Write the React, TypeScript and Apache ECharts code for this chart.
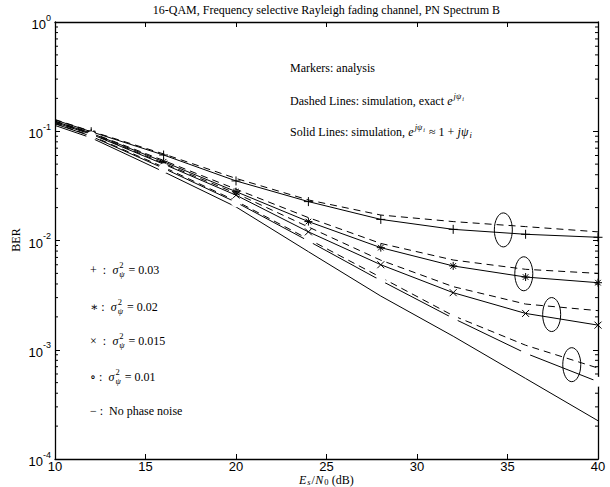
import React, { useEffect, useRef } from 'react';
import * as echarts from 'echarts';

// ---- data ----
const snr = [10, 12, 16, 20, 24, 28, 32, 36, 40];
const markerSnr = [12, 16, 20, 24, 28, 32, 36, 40];

// solid lines: simulation, e^{j psi} ~ 1 + j psi
const solidP03 = [0.127, 0.099, 0.0606, 0.0351, 0.0227, 0.0156, 0.01265, 0.0114, 0.0107];
const solidP02 = [0.123, 0.096, 0.0526, 0.028, 0.0149, 0.0086, 0.00585, 0.00463, 0.00411];
const solidP015 = [0.12, 0.094, 0.05, 0.026, 0.012, 0.006, 0.00333, 0.00215, 0.00168];
const solidP01 = [0.117, 0.09, 0.0458, 0.0224, 0.0099, 0.0043, 0.00194, 0.00093, 0.00051];
const solidNoPN = [0.113, 0.087, 0.0426, 0.0203, 0.0079, 0.0031, 0.00133, 0.000546, 0.000224];

// dashed lines: simulation, exact e^{j psi}
const dashP03 = [0.128, 0.1, 0.062, 0.037, 0.0235, 0.0171, 0.0149, 0.0134, 0.012];
const dashP02 = [0.124, 0.097, 0.054, 0.0295, 0.0162, 0.0094, 0.00663, 0.00545, 0.005];
const dashP015 = [0.121, 0.095, 0.051, 0.027, 0.0133, 0.0066, 0.00378, 0.00262, 0.00228];
const dashP01 = [0.118, 0.091, 0.047, 0.023, 0.0103, 0.0046, 0.00205, 0.0011, 0.00068];

// markers: analysis
const anaP03 = [0.099, 0.0606, 0.0351, 0.0227, 0.0156, 0.01265, 0.0114, 0.0107];
const anaP02 = [0.096, 0.0526, 0.028, 0.0149, 0.0086, 0.00585, 0.00463, 0.00411];
const anaP015 = [0.094, 0.05, 0.026, 0.012, 0.006, 0.00333, 0.00215, 0.00168];
const anaP01 = [0.09, 0.0458, 0.0224, 0.0099, 0.0043, 0.00194, 0.00093, 0.00051];

// annotation ellipses centres (dB, BER)
const ellipseCentres: [number, number][] = [
  [34.77, 0.0125],
  [35.9, 0.00496],
  [37.44, 0.0021],
  [38.55, 0.00073],
];

const xTicks = [10, 40, 5];
const yRange = [1e-4, 1];

const SERIF = '"Liberation Serif", "DejaVu Serif", serif';
const SANS = '"Liberation Sans", Arial, sans-serif';

const plusPath = 'path://M5,0L5,10M0,5L10,5';
const crossPath = 'path://M0,0L10,10M10,0L0,10';
const starPath = 'path://M5,0L5,10M0,5L10,5M1.5,1.5L8.5,8.5M8.5,1.5L1.5,8.5';

function pairs(xs: number[], ys: number[]) {
  return xs.map((x, i) => [x, ys[i]]);
}

type Piece = { t: string; s?: number; it?: boolean; dy?: number; noAdv?: boolean };

let mctx: CanvasRenderingContext2D | null = null;
function fontOf(p: Piece) {
  return `${p.it ? 'italic ' : ''}${p.s || 12}px ${SERIF}`;
}
function measure(p: Piece) {
  if (!mctx) mctx = document.createElement('canvas').getContext('2d');
  const extra = p.it ? 1 : 0.3;
  if (!mctx) return p.t.length * 6 + extra;
  mctx.font = fontOf(p);
  return mctx.measureText(p.t).width + extra;
}
function layout(x: number, y: number, items: Piece[], align: 'left' | 'center' = 'left') {
  let total = 0;
  items.forEach((p) => { if (!p.noAdv) total += measure(p); });
  let cx = align === 'center' ? x - total / 2 : x;
  const els: any[] = [];
  items.forEach((p) => {
    els.push({
      type: 'text', x: cx, y: y + (p.dy || 0), z: 20, silent: true,
      style: { text: p.t, font: fontOf(p), fill: '#000', textAlign: 'left', textVerticalAlign: 'middle' },
    });
    if (!p.noAdv) cx += measure(p);
  });
  return els;
}

const sigma = (prefix: string, value: string): Piece[] => [
  { t: prefix },
  { t: 'σ', it: true },
  { t: '2', s: 8.5, dy: -5, noAdv: true },
  { t: 'ψ', s: 8.5, it: true, dy: 4 },
  { t: ' = ' + value },
];

export default function App() {
  const ref = useRef<HTMLDivElement>(null);
  useEffect(() => {
    if (!ref.current) return;
    const chart = echarts.init(ref.current, null, { renderer: 'svg' });
    const line = (data: number[], dashed: boolean) => ({
      type: 'line',
      data: pairs(snr, data),
      showSymbol: false,
      symbol: 'none',
      lineStyle: { color: '#000', width: 1, type: dashed ? [7, 5] : 'solid' },
      z: 2,
    });
    const scat = (data: number[], symbol: string, size: number) => ({
      type: 'scatter',
      data: pairs(markerSnr, data),
      symbol,
      symbolSize: size,
      clip: false,
      itemStyle: { color: symbol === 'emptyCircle' ? '#fff' : 'transparent', borderColor: '#000', borderWidth: 1, opacity: 1 },
      z: 3,
    });
    const axisCommon = {
      axisLine: { show: true, onZero: false, lineStyle: { color: '#000', width: 1.3 } },
      axisTick: { show: true, inside: true, length: 5, lineStyle: { color: '#000', width: 1 } },
      splitLine: { show: false },
    };
    const yLabelRich = {
      b: { fontFamily: SANS, fontSize: 13, color: '#000', verticalAlign: 'bottom', lineHeight: 18 },
      s: { fontFamily: SANS, fontSize: 9, color: '#000', verticalAlign: 'top', lineHeight: 18 },
    };
    chart.setOption({
      animation: false,
      backgroundColor: '#fff',
      grid: { left: 55, right: 12, top: 22, bottom: 28, containLabel: false },
      xAxis: [
        {
          type: 'value', min: xTicks[0], max: xTicks[1], interval: xTicks[2], position: 'bottom',
          ...axisCommon,
          axisLabel: { show: true, fontFamily: SANS, fontSize: 13, lineHeight: 13, color: '#000', margin: 1 },
        },
        {
          type: 'value', min: xTicks[0], max: xTicks[1], interval: xTicks[2], position: 'top',
          ...axisCommon,
          axisLabel: { show: false },
        },
      ],
      yAxis: [
        {
          type: 'log', logBase: 10, min: yRange[0], max: yRange[1], splitNumber: 4, position: 'left',
          ...axisCommon,
          axisLabel: {
            show: true, margin: 4,
            formatter: (v: number) => `{b|10}{s|${Math.round(Math.log10(v))}}`,
            rich: yLabelRich,
          },
        },
        {
          type: 'log', logBase: 10, min: yRange[0], max: yRange[1], splitNumber: 4, position: 'right',
          ...axisCommon,
          axisLabel: { show: false },
        },
      ],
      series: [
        line(solidP03, false), line(dashP03, true), scat(anaP03, plusPath, 9),
        line(solidP02, false), line(dashP02, true), scat(anaP02, starPath, 8),
        line(solidP015, false), line(dashP015, true), scat(anaP015, crossPath, 7),
        line(solidP01, false), line(dashP01, true), scat(anaP01, 'emptyCircle', 8),
        line(solidNoPN, false),
      ],
    });

    // minor log ticks + ellipses + texts
    const xl = chart.convertToPixel({ xAxisIndex: 0 }, xTicks[0]) as number;
    const xr = chart.convertToPixel({ xAxisIndex: 0 }, xTicks[1]) as number;
    const elements: any[] = [];
    for (let k = -4; k < 0; k++) {
      for (let m = 2; m <= 9; m++) {
        const py = chart.convertToPixel({ yAxisIndex: 0 }, m * Math.pow(10, k)) as number;
        elements.push({ type: 'line', shape: { x1: xl, y1: py, x2: xl + 3, y2: py }, style: { stroke: '#000', lineWidth: 1 }, silent: true });
        elements.push({ type: 'line', shape: { x1: xr - 3, y1: py, x2: xr, y2: py }, style: { stroke: '#000', lineWidth: 1 }, silent: true });
      }
    }
    ellipseCentres.forEach(([dx, dy]) => {
      const [cx, cy] = chart.convertToPixel({ gridIndex: 0 }, [dx, dy]) as number[];
      elements.push({ type: 'ellipse', shape: { cx, cy, rx: 9, ry: 17 }, style: { fill: 'none', stroke: '#000', lineWidth: 1 }, z: 10 });
    });
    const cxPlot = (xl + xr) / 2;
    elements.push(...layout(cxPlot, 10, [{ t: '16-QAM, Frequency selective Rayleigh fading channel, PN Spectrum B' }], 'center'));
    elements.push(...layout(290, 68, [{ t: 'Markers: analysis' }]));
    elements.push(...layout(290, 101, [
      { t: 'Dashed Lines: simulation, exact ' }, { t: 'e', it: true },
      { t: 'jψ', s: 8.5, it: true, dy: -5 }, { t: 'i', s: 6, it: true, dy: -2 },
    ]));
    elements.push(...layout(290, 132, [
      { t: 'Solid Lines: simulation, ' }, { t: 'e', it: true },
      { t: 'jψ', s: 8.5, it: true, dy: -5 }, { t: 'i', s: 6, it: true, dy: -2 },
      { t: ' ≈ 1 + ' }, { t: 'jψ', it: true }, { t: 'i', s: 8.5, it: true, dy: 3 },
    ]));
    elements.push(...layout(90, 270, sigma('+  :  ', '0.03')));
    elements.push(...layout(90, 307, sigma('∗ :  ', '0.02')));
    elements.push(...layout(90, 341, sigma('×  :  ', '0.015')));
    elements.push(...layout(90, 377, sigma('∘ :  ', '0.01')));
    elements.push(...layout(90, 411, [{ t: '− :  No phase noise' }]));
    elements.push(...layout(cxPlot, 479.5, [
      { t: 'E', it: true }, { t: 's', s: 8.5, it: true, dy: 2.5 }, { t: '/' },
      { t: 'N', it: true }, { t: '0', s: 8.5, dy: 2.5 }, { t: ' (dB)' },
    ], 'center'));
    elements.push({
      type: 'text', x: 16, y: 240, rotation: Math.PI / 2, z: 20,
      style: { text: 'BER', fill: '#000', font: `12px ${SERIF}`, textAlign: 'center', textVerticalAlign: 'middle' },
    });
    chart.setOption({ graphic: { elements } });

    return () => chart.dispose();
  }, []);
  return <div ref={ref} style={{ width: 610, height: 487, position: 'absolute', left: 0, top: 0 }} />;
}
